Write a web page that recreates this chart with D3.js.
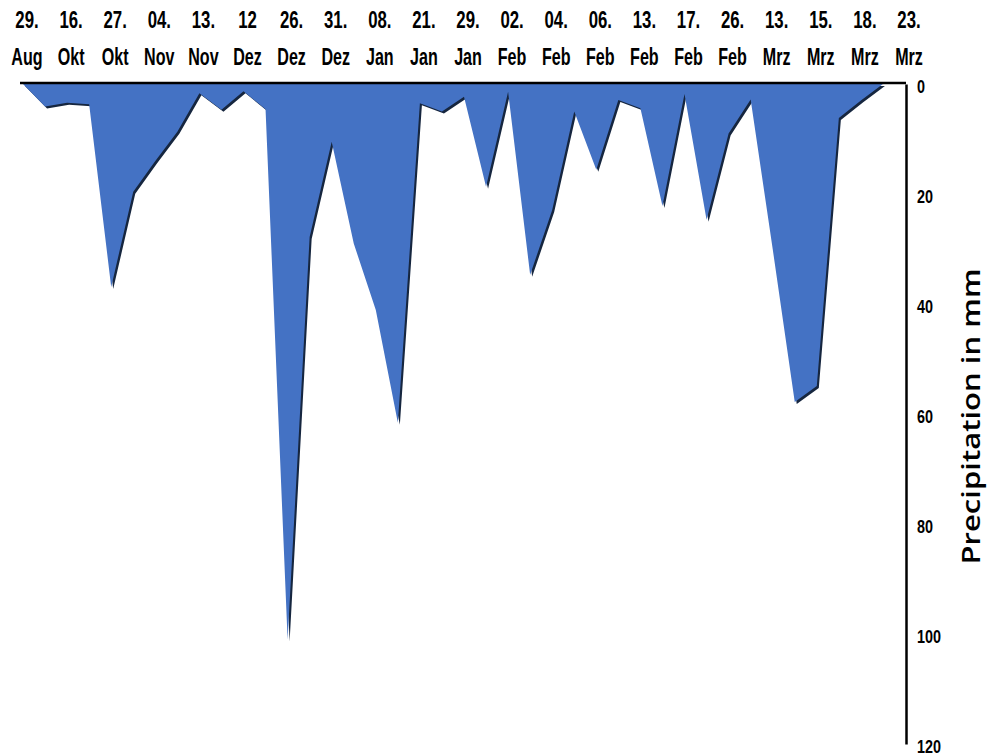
<!DOCTYPE html>
<html><head><meta charset="utf-8">
<script src="https://cdn.jsdelivr.net/npm/d3@7"></script>
<style>
html,body{margin:0;padding:0;background:#fff;}
svg{display:block;}
.lab{font-family:"Liberation Sans",Arial,sans-serif;font-weight:bold;fill:#000;}
</style></head>
<body>
<svg id="chart" width="989" height="755"></svg>
<script>
// precipitation (mm) per observation, in order
const precip = [0, 4.1, 3.4, 3.7, 36.9, 19.6, 14, 8.7, 1.7, 4.7, 1.3, 4.6, 101, 27.8, 10.5, 29, 41.1, 61.6, 3.5, 5.0,
                2.3, 18.7, 1.4, 34.7, 22.9, 5.0, 15.6, 2.9, 4.4, 22.2, 1.8, 24.7, 9.0, 2.8, 30, 57.8, 54.9, 6.2, 3, 0];
const dayLabels = ["29.","16.","27.","04.","13.","12","26.","31.","08.","21.","29.","02.","04.","06.","13.","17.","26.","13.","15.","18.","23."];
const monthLabels = ["Aug","Okt","Okt","Nov","Nov","Dez","Dez","Dez","Jan","Jan","Jan","Feb","Feb","Feb","Feb","Feb","Feb","Mrz","Mrz","Mrz","Mrz"];
const yTicks = [0, 20, 40, 60, 80, 100, 120];
const yTitle = "Precipitation in mm";

const svg = d3.select("#chart");
const x = d3.scaleLinear().domain([0, 40]).range([23, 905]);
const y = d3.scaleLinear().domain([0, 120]).range([84, 744]);

const area = d3.area()
  .x((d, i) => x(i))
  .y0(y(0))
  .y1(d => y(d));

// shadow
svg.append("path").datum(precip)
  .attr("d", area)
  .attr("fill", "#16263f")
  .attr("transform", "translate(2,2)");
// main area
svg.append("path").datum(precip)
  .attr("d", area)
  .attr("fill", "#4472C4");

// top axis line (category axis)
const xAxis = d3.axisTop(x).tickValues([]).tickSizeOuter(0);
const gx = svg.append("g").attr("transform", `translate(0,${y(0) - 1})`).call(xAxis);
gx.select(".domain").attr("stroke", "#000").attr("stroke-width", 2.5)
  .attr("d", `M20,0H${x(40) + 1}`);

// right axis
const yAxis = d3.axisRight(y).tickValues(yTicks).tickSize(0).tickPadding(0);
const gy = svg.append("g").attr("transform", `translate(${x(40) + 1},0)`).call(yAxis);
gy.select(".domain").attr("stroke", "#000").attr("stroke-width", 2.5);
gy.selectAll("text")
  .attr("class", "lab")
  .style("font-size", "18px")
  .attr("x", 11 / 0.8)
  .attr("dy", "0.45em")
  .attr("transform", "scale(0.8,1)");

// top category labels
const lg = svg.append("g");
dayLabels.forEach((d, k) => {
  const cx = x(2 * k) + 4;
  lg.append("text").attr("class", "lab")
    .attr("transform", `translate(${cx},28) scale(0.7,1)`)
    .attr("text-anchor", "middle")
    .style("font-size", "24px")
    .text(d);
  lg.append("text").attr("class", "lab")
    .attr("transform", `translate(${cx},65) scale(0.7,1)`)
    .attr("text-anchor", "middle")
    .style("font-size", "23px")
    .text(monthLabels[k]);
});

// y title
svg.append("text")
  .attr("transform", `translate(980,${(565 + 268) / 2}) rotate(-90)`)
  .attr("text-anchor", "middle")
  .style("font-family", "'Open Sans', sans-serif")
  .style("font-weight", "600")
  .style("font-size", "26px")
  .attr("textLength", 296)
  .attr("lengthAdjust", "spacingAndGlyphs")
  .text(yTitle);
</script>
</body></html>
